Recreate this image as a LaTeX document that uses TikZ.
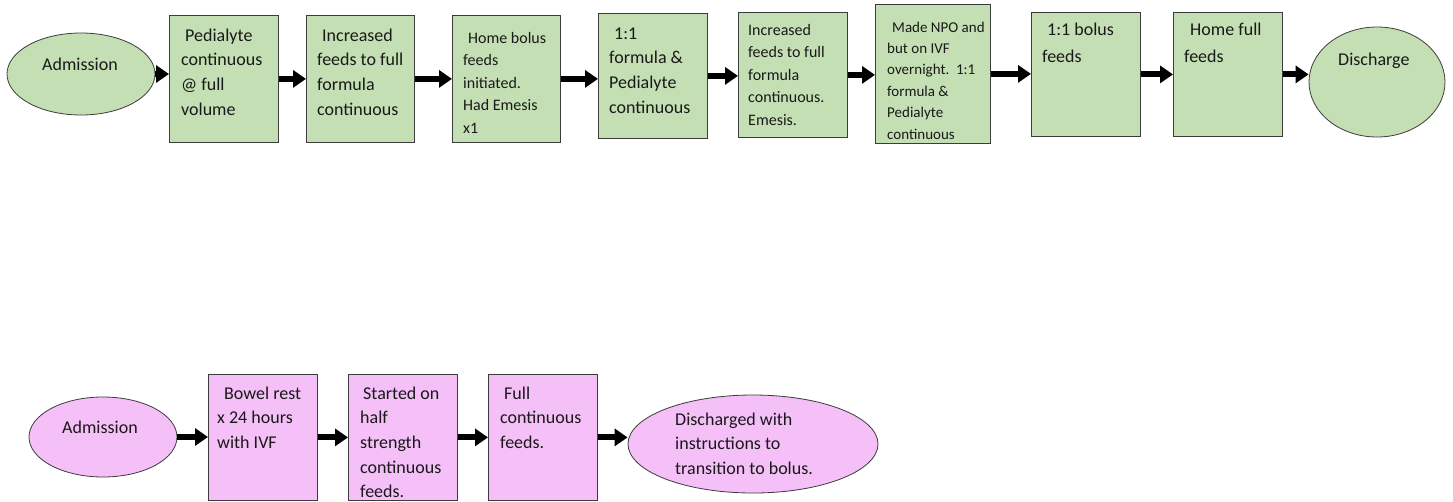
\documentclass[tikz,border=0pt]{standalone}
\usepackage{fontspec}
\setmainfont{Carlito}
\usetikzlibrary{shapes.geometric,arrows.meta}
\definecolor{boxgreen}{HTML}{C5DFB4}
\definecolor{boxpink}{HTML}{F5C0F8}
\definecolor{edgegray}{HTML}{3C3C3C}
\tikzset{
  stepbox/.style={draw=edgegray, line width=0.8pt, rectangle, anchor=north west, inner sep=0pt},
  gbox/.style={stepbox, fill=boxgreen},
  pbox/.style={stepbox, fill=boxpink},
  oval/.style={draw=edgegray, line width=0.8pt, ellipse, inner sep=0pt},
  txt/.style={anchor=base west, inner sep=0pt, text=black!90},
  big/.style={font=\fontsize{18}{24.7}\selectfont},
  mid/.style={font=\fontsize{16}{22.6}\selectfont},
  small/.style={font=\fontsize{15}{21.4}\selectfont},
  arr/.style={line width=6pt, -{Triangle[length=13pt,width=17pt]}, black},
}
\newcommand{\lines}[1]{\parbox[t]{130pt}{\raggedright #1}}
\newcommand{\widelines}[1]{\parbox[t]{220pt}{\raggedright #1}}
\begin{document}
\begin{tikzpicture}[x=1pt,y=-1pt]
\clip (0,0) rectangle (1453,501);
\fill[white] (0,0) rectangle (1453,501);
% ---------- top row ----------
\node[oval, fill=boxgreen, minimum width=148pt, minimum height=82pt] (adm1) at (81,74) {};
\node[gbox, minimum width=109pt, minimum height=127pt] (b1) at (169,15) {};
\node[gbox, minimum width=108pt, minimum height=127pt] (b2) at (306,15) {};
\node[gbox, minimum width=108pt, minimum height=127pt] (b3) at (452,15) {};
\node[gbox, minimum width=109pt, minimum height=125pt] (b4) at (598,13) {};
\node[gbox, minimum width=109pt, minimum height=125pt] (b5) at (738,12) {};
\node[gbox, minimum width=115pt, minimum height=139pt] (b6) at (875,4) {};
\node[gbox, minimum width=109pt, minimum height=124pt] (b7) at (1031,12) {};
\node[gbox, minimum width=109pt, minimum height=124pt] (b8) at (1173,12) {};
\node[oval, fill=boxgreen, minimum width=136pt, minimum height=110pt] (dis1) at (1377,82) {};

\node[txt, big] (tadm1) at (42,70) {Admission};
\node[txt, big] (t1) at (181,41) {\lines{\hspace*{4pt}Pedialyte\\continuous\\@ full\\volume}};
\node[txt, big] (t2) at (317,41) {\lines{\hspace*{5pt}Increased\\feeds to full\\formula\\continuous}};
\node[txt, mid] (t3) at (463,43) {\lines{\hspace*{5pt}Home bolus\\feeds\\initiated.\\Had Emesis\\x1}};
\node[txt, big] (t4) at (609,39) {\lines{\hspace*{5pt}1:1\\formula \&\\Pedialyte\\continuous}};
\node[txt, mid] (t5) at (748,35) {\lines{Increased\\feeds to full\\formula\\continuous.\\Emesis.}};
\node[txt, small] (t6) at (887,32) {\lines{\hspace*{5pt}Made NPO and\\but on IVF\\overnight.~~1:1\\formula \&\\Pedialyte\\continuous}};
\node[txt, big, font=\fontsize{18}{27}\selectfont] (t7) at (1042,35) {\lines{\hspace*{5pt}1:1 bolus\\feeds}};
\node[txt, big, font=\fontsize{18}{27}\selectfont] (t8) at (1184,35) {\lines{\hspace*{6pt}Home full\\feeds}};
\node[txt, big] (tdis1) at (1338,65) {Discharge};

\draw[arr] (adm1.east) -- (adm1.east -| b1.west);
\draw[arr] (b1.east) -- (b1.east -| b2.west);
\draw[arr] (b2.east) -- (b2.east -| b3.west);
\draw[arr] (b3.east) -- (b3.east -| b4.west);
\draw[arr] (b4.east) -- (b4.east -| b5.west);
\draw[arr] (b5.east) -- (b5.east -| b6.west);
\draw[arr] (b6.east) -- (b6.east -| b7.west);
\draw[arr] (b7.east) -- (b7.east -| b8.west);
\draw[arr] (b8.east) -- (b8.east -| dis1.west);

% ---------- bottom row ----------
\node[oval, fill=boxpink, minimum width=148pt, minimum height=80pt] (adm2) at (103,437) {};
\node[pbox, minimum width=109pt, minimum height=126pt] (c1) at (208,374) {};
\node[pbox, minimum width=109pt, minimum height=126pt] (c2) at (348,374) {};
\node[pbox, minimum width=109pt, minimum height=126pt] (c3) at (488,374) {};
\node[oval, fill=boxpink, minimum width=250pt, minimum height=98pt] (dis2) at (753,444) {};

\node[txt, big] (tadm2) at (62,433) {Admission};
\node[txt, big] (u1) at (217,399) {\lines{\hspace*{7pt}Bowel rest\\x 24 hours\\with IVF}};
\node[txt, big] (u2) at (360,399) {\lines{\hspace*{3pt}Started on\\half\\strength\\continuous\\feeds.}};
\node[txt, big] (u3) at (500,399) {\lines{\hspace*{4pt}Full\\continuous\\feeds.}};
\node[txt, big] (tdis2) at (675,425) {\widelines{Discharged with\\instructions to\\transition to bolus.}};

\draw[arr] (adm2.east) -- (adm2.east -| c1.west);
\draw[arr] (c1.east) -- (c1.east -| c2.west);
\draw[arr] (c2.east) -- (c2.east -| c3.west);
\draw[arr] (c3.east) -- (c3.east -| dis2.west);
\end{tikzpicture}
\end{document}
